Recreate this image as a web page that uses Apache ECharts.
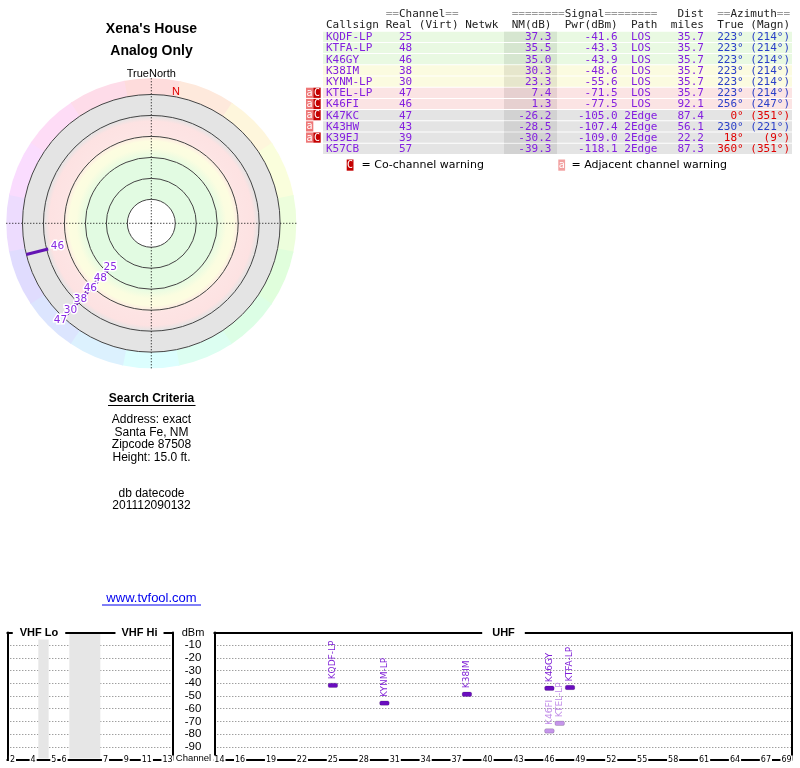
<!DOCTYPE html>
<html><head><meta charset="utf-8">
<script src="https://cdn.jsdelivr.net/npm/echarts@6/dist/echarts.min.js"></script>
<style>html,body{margin:0;padding:0;background:#fff;}#c{width:800px;height:768px;}</style>
</head><body><div id="c"></div>
<script>
// ---------------- DATA ----------------
const callsigns    = ['KQDF-LP','KTFA-LP','K46GY','K38IM','KYNM-LP','KTEL-LP','K46FI','K47KC','K43HW','K39EJ','K57CB'];
const realChannels = [25,48,46,38,30,47,46,47,43,39,57];
const nmDb         = [37.3,35.5,35.0,30.3,23.3,7.4,1.3,-26.2,-28.5,-30.2,-39.3];
const pwrDbm       = [-41.6,-43.3,-43.9,-48.6,-55.6,-71.5,-77.5,-105.0,-107.4,-109.0,-118.1];
const paths        = ['LOS','LOS','LOS','LOS','LOS','LOS','LOS','2Edge','2Edge','2Edge','2Edge'];
const distMiles    = [35.7,35.7,35.7,35.7,35.7,35.7,92.1,87.4,56.1,22.2,87.3];
const azTrue       = [223,223,223,223,223,223,256,0,230,18,360];
const azMagn       = [214,214,214,214,214,214,247,351,221,9,351];
const rowBand      = ['green','green','green','yellow','yellow','pink','pink','grey','grey','grey','grey'];
const adjWarn      = [0,0,0,0,0,1,1,1,1,1,0];
const coWarn       = [0,0,0,0,0,1,1,1,0,1,0];
const azWarnRed    = [0,0,0,0,0,0,0,1,0,1,1];

// polar rings (NM dB) and range
const polarRingsNM = [70,52.5,35,17.5,0,-17.5];
const polarNMmax = 90, polarNMmin = -31;

// spectrum axes
const dbmTicks = [-10,-20,-30,-40,-50,-60,-70,-80,-90];
const uhfTickChannels = [14,16,19,22,25,28,31,34,37,40,43,46,49,52,55,58,61,64,67,69];
const vhfTickChannels = [2,4,5,6,7,9,11,13];
const vhfGapSlots = [[3,4],[6,9]];

// table text
const tableHeader1 = [[9,'==',1],[11,'Channel',0],[18,'==',1],[28,'========',1],[36,'Signal',0],[42,'========',1],[53,'Dist',0],[59,'==',1],[61,'Azimuth',0],[68,'==',1]];
const tableHeader2 = [[0,'Callsign'],[9,'Real'],[14,'(Virt)'],[21,'Netwk'],[28,'NM(dB)'],[36,'Pwr(dBm)'],[46,'Path'],[52,'miles'],[59,'True'],[64,'(Magn)']];
const searchLines = ['Address: exact','Santa Fe, NM','Zipcode 87508','Height: 15.0 ft.'];

// ---------------- LAYOUT / STYLE ----------------
const PURPLE = '#8420e0', BLUE = '#2a3fc8', RED = '#e00000';
const bandColors = {green:['#e9f9e2','#d6e6d0'], yellow:['#fbfbe0','#e6e6cc'], pink:['#fbe4e4','#e6d0d0'], grey:['#e4e4e4','#d2d2d2']};
const MONO = '11px "DejaVu Sans Mono"';
const SANS = '"Liberation Sans"';
const TX0 = 326, CW = 6.63, ROWY0 = 31.7, RH = 11.2;
function colX(c){ return TX0 + c*CW; }
function vhfSlot(ch){ return ch<=4 ? ch-1.5 : (ch<=6 ? ch-0.5 : ch+2.5); }
const vhfTickSlots = vhfTickChannels.map(vhfSlot);

const G = [];
function txt(x,y,text,o){
  o = o || {};
  const al = o.align || 'left', va = o.va || 'middle';
  const st = {text:text, fill:o.fill||'#000', font:o.font||('12px '+SANS), align:al, verticalAlign:va, textAlign:al, textVerticalAlign:va};
  if (o.bg){ st.backgroundColor = o.bg; st.padding = o.pad || [0,0]; }
  G.push({type:'text', x:x, y:y, z:o.z||10, silent:true, style:st});
}
function rect(x,y,w,h,fill,z){ G.push({type:'rect', z:z||5, silent:true, shape:{x:x,y:y,width:w,height:h}, style:{fill:fill}}); }
function hline(x1,x2,y,color,w){ G.push({type:'line', z:10, silent:true, shape:{x1:x1,y1:y,x2:x2,y2:y}, style:{stroke:color,lineWidth:w||1}}); }

// left titles
txt(151.5,29,"Xena's House",{align:'center',font:'bold 14px '+SANS});
txt(151.5,51,'Analog Only',{align:'center',font:'bold 14px '+SANS});
txt(151.3,73.5,'TrueNorth',{align:'center',font:'11px '+SANS});
txt(151.5,398.5,'Search Criteria',{align:'center',font:'bold 12px '+SANS});
hline(108,195.5,405.5,'#000',1);
searchLines.forEach((s,k)=>txt(151.5,420+k*12.5,s,{align:'center'}));
txt(151.5,494,'db datecode',{align:'center'});
txt(151.5,506,'201112090132',{align:'center'});
txt(151.5,598,'www.tvfool.com',{align:'center',fill:'#0000ee',font:'13px '+SANS});
hline(102,201,605,'#0000ee',1);

// table headers
tableHeader1.forEach(h=>txt(colX(h[0]),14.3,h[1],{font:MONO,fill:h[2]?'#9a9a9a':'#222'}));
tableHeader2.forEach(h=>txt(colX(h[0]),25.5,h[1],{font:MONO,fill:'#222'}));

// table rows
callsigns.forEach((cs,i)=>{
  const y0 = ROWY0 + i*RH, yc = y0 + RH/2;
  const bc = bandColors[rowBand[i]];
  rect(323, y0, 469, RH-1, bc[0], 1);
  rect(504, y0, 53, RH-1, bc[1], 2);
  if (adjWarn[i]){ rect(306, y0, 7.3, RH-1, '#ee7777', 2); txt(309.6, yc, 'a', {align:'center', font:'10px "DejaVu Sans Mono"', fill:'#fff'}); }
  if (coWarn[i]){ rect(313.3, y0, 7.4, RH-1, '#c40000', 2); txt(317, yc, 'C', {align:'center', font:'10px "DejaVu Sans Mono"', fill:'#fff'}); }
  txt(colX(0), yc, cs, {font:MONO, fill:PURPLE});
  txt(colX(13), yc, String(realChannels[i]), {font:MONO, fill:PURPLE, align:'right'});
  txt(colX(34), yc, nmDb[i].toFixed(1), {font:MONO, fill:PURPLE, align:'right'});
  txt(colX(44), yc, pwrDbm[i].toFixed(1), {font:MONO, fill:PURPLE, align:'right'});
  txt(colX(47.5), yc, paths[i], {font:MONO, fill:PURPLE, align:'center'});
  txt(colX(57), yc, distMiles[i].toFixed(1), {font:MONO, fill:PURPLE, align:'right'});
  const ac = azWarnRed[i] ? RED : BLUE;
  txt(colX(63), yc, azTrue[i]+'°', {font:MONO, fill:ac, align:'right'});
  txt(colX(70), yc, '('+azMagn[i]+'°)', {font:MONO, fill:ac, align:'right'});
});
// legend
rect(346.7,159.5,6.8,11.2,'#c40000',2); txt(350.1,165.2,'C',{align:'center',font:'10px "DejaVu Sans Mono"',fill:'#fff'});
txt(361.5,165.5,'= Co-channel warning',{font:'11px "DejaVu Sans"'});
rect(558.3,159.5,6.8,11.2,'#f2a0a0',2); txt(561.7,165.2,'a',{align:'center',font:'10px "DejaVu Sans Mono"',fill:'#fff'});
txt(571.5,165.5,'= Adjacent channel warning',{font:'11px "DejaVu Sans"'});

// spectrum panel titles / labels
txt(39,633,'VHF Lo',{align:'center',font:'bold 11px '+SANS,bg:'#fff',pad:[1,7],z:20});
txt(139.5,633,'VHF Hi',{align:'center',font:'bold 11px '+SANS,bg:'#fff',pad:[1,6],z:20});
txt(503.5,633,'UHF',{align:'center',font:'bold 11px '+SANS,bg:'#fff',pad:[1,10],z:20});
txt(193,633,'dBm',{align:'center',font:'11px '+SANS});
txt(193.5,758.5,'Channel',{align:'center',font:'9.5px '+SANS,bg:'#fff',pad:[0,1],z:20});

// ---------------- SERIES RENDERERS ----------------
function rPix(api, cs, nm){ const p = api.coord([nm,0]); return Math.hypot(p[0]-cs.cx, p[1]-cs.cy); }

function renderPolarBg(params, api){
  const cs = params.coordSys, cx = cs.cx, cy = cs.cy;
  const rOuterRing = rPix(api, cs, polarRingsNM[polarRingsNM.length-1]);
  const rRim = rPix(api, cs, polarNMmin);
  const rCenter = rPix(api, cs, polarRingsNM[0]);
  const ch = [];
  const nSeg = 16, segW = 360/nSeg;
  for (let k=0;k<nSeg;k++){
    const a0 = (k*segW - segW/2 - 90)*Math.PI/180, a1 = (k*segW + segW/2 - 90)*Math.PI/180;
    ch.push({type:'sector', shape:{cx:cx,cy:cy,r0:rOuterRing,r:rRim,startAngle:a0,endAngle:a1+0.01,clockwise:true},
      style:{fill:'hsl('+(k*segW)+',95%,93%)'}});
  }
  const f = r => r/rOuterRing;
  ch.push({type:'circle', shape:{cx:cx,cy:cy,r:rOuterRing}, style:{fill:{type:'radial',x:0.5,y:0.5,r:0.5,colorStops:[
    {offset:0,color:'#e2fbe2'},{offset:f(64),color:'#e2fbe2'},{offset:f(75),color:'#fbfde0'},{offset:f(82),color:'#fdfde0'},
    {offset:f(89),color:'#fde4e4'},{offset:f(102),color:'#fde2e2'},{offset:f(107.5),color:'#e4e4e4'},{offset:1,color:'#e4e4e4'}]}}});
  ch.push({type:'circle', shape:{cx:cx,cy:cy,r:rCenter}, style:{fill:'#fff'}});
  polarRingsNM.forEach(nm=>{
    ch.push({type:'circle', shape:{cx:cx,cy:cy,r:rPix(api,cs,nm)}, style:{fill:null,stroke:'#444',lineWidth:1}});
  });
  // magnetic north marker
  const decl = azTrue[0]-azMagn[0];
  const pN = api.coord([-21, decl]);
  ch.push({type:'text', x:pN[0], y:pN[1], style:{text:'N', fill:RED, font:'11px '+SANS, align:'left', verticalAlign:'middle'}});
  return {type:'group', children:ch};
}

const polarIdx = callsigns.map((c,i)=>i).filter(i=>nmDb[i] >= polarRingsNM[polarRingsNM.length-1]);
function renderPolarStation(params, api){
  const cs = params.coordSys, cx = cs.cx, cy = cs.cy;
  const nm = api.value(0), az = api.value(1), chn = api.value(2);
  const pIn = api.coord([nm, az]);
  const pOut = api.coord([polarRingsNM[polarRingsNM.length-1], az]);
  const ux = (pOut[0]-cx), uy = (pOut[1]-cy); const L = Math.hypot(ux,uy); const vx = ux/L, vy = uy/L;
  // label stagger among stations sharing the azimuth
  const me = polarIdx[params.dataIndex];
  const grp = polarIdx.filter(i=>azTrue[i]===az).map(i=>({i:i, r:rPix(api,cs,nmDb[i])})).sort((a,b)=>a.r-b.r);
  const d = 3 + 9*Math.max(0, Math.abs(vx)-Math.abs(vy));
  let prev = -1e9, myR = 0;
  grp.forEach(g=>{ const lr = Math.max(g.r - d, prev + 14.6); prev = lr; if (g.i===me) myR = lr; });
  return {type:'group', children:[
    {type:'line', z2:1, shape:{x1:pIn[0],y1:pIn[1],x2:pOut[0],y2:pOut[1]}, style:{stroke:'#6414b4', lineWidth:3}},
    {type:'text', z2:10, x:cx+vx*myR, y:cy+vy*myR, style:{text:String(chn), fill:'#8a2be2', font:'10.5px "DejaVu Sans"', align:'center', verticalAlign:'middle', stroke:'#fff', lineWidth:3, strokeFirst:true}}
  ]};
}

function renderGap(params, api){
  const p0 = api.coord([api.value(0), 0]), p1 = api.coord([api.value(1), -100]);
  return {type:'rect', shape:{x:p0[0], y:p0[1]+1, width:p1[0]-p0[0], height:p1[1]-p0[1]-2}, style:{fill:'#e6e6e6'}};
}

function renderSpectrum(params, api){
  const ch = api.value(0), pw = api.value(1), i = api.value(2);
  if (pw < -100) return null;
  const p = api.coord([ch, pw]);
  const w = api.size([1,0])[0] - 0.8;
  const weak = (rowBand[i]==='pink' || rowBand[i]==='grey');
  const barC = weak ? '#c595ea' : '#6a0dbf', txtC = weak ? '#c08ae8' : '#7f1fd6';
  return {type:'group', children:[
    {type:'rect', shape:{x:p[0]-w/2, y:p[1]-2.2, width:w, height:4.4, r:1.5}, style:{fill:barC, stroke:'rgba(0,0,0,0.25)', lineWidth:0.6}},
    {type:'text', x:p[0], y:p[1]-6, rotation:Math.PI/2, style:{text:callsigns[i], fill:txtC, font:'9px "DejaVu Sans"', align:'left', verticalAlign:'middle'}}
  ]};
}

// ---------------- OPTION ----------------
const axLineBlack = {show:true, onZero:false, lineStyle:{color:'#000', width:2}};
const noTick = {show:false};
const option = {
  animation:false,
  backgroundColor:'#fff',
  polar:{center:[151.3,223.3], radius:145},
  angleAxis:{type:'value', min:0, max:360, interval:90, startAngle:90, clockwise:true, z:3,
    axisLine:{show:false}, axisTick:noTick, axisLabel:{show:false},
    splitLine:{show:true, lineStyle:{color:'#000', width:1, type:[1,2]}}},
  radiusAxis:{type:'value', min:polarNMmin, max:polarNMmax, inverse:true,
    axisLine:{show:false}, axisTick:noTick, axisLabel:{show:false}, splitLine:{show:false}},
  grid:[
    {left:7.3, top:632.5, width:165.4, height:127},
    {left:214.3, top:632.5, width:577.4, height:127}
  ],
  xAxis:[
    {gridIndex:0, type:'value', min:0, max:16, position:'bottom', z:3, axisLine:axLineBlack, axisTick:noTick, splitLine:{show:false},
      axisLabel:{customValues:vhfTickSlots, formatter:v=>{const k=vhfTickSlots.findIndex(s=>Math.abs(s-v)<1e-6); return k>=0?String(vhfTickChannels[k]):'';},
        margin:0, verticalAlign:'middle', backgroundColor:'#fff', padding:[0,1], fontSize:8, fontFamily:'DejaVu Sans', color:'#000', hideOverlap:false, showMinLabel:true, showMaxLabel:true}},
    {gridIndex:0, type:'value', min:0, max:16, position:'top', z:3, axisLine:axLineBlack, axisTick:noTick, axisLabel:{show:false}, splitLine:{show:false}},
    {gridIndex:1, type:'value', min:13.5, max:69.5, position:'bottom', z:3, axisLine:axLineBlack, axisTick:noTick, splitLine:{show:false},
      axisLabel:{customValues:uhfTickChannels, formatter:v=>String(v),
        margin:0, verticalAlign:'middle', backgroundColor:'#fff', padding:[0,1], fontSize:8, fontFamily:'DejaVu Sans', color:'#000', hideOverlap:false}},
    {gridIndex:1, type:'value', min:13.5, max:69.5, position:'top', z:3, axisLine:axLineBlack, axisTick:noTick, axisLabel:{show:false}, splitLine:{show:false}}
  ],
  yAxis:[
    {gridIndex:0, type:'value', min:-100, max:0, interval:10, position:'left', axisLine:axLineBlack, axisTick:noTick, axisLabel:{show:false},
      splitLine:{show:true, lineStyle:{color:'#777', width:1, type:[1,2]}}},
    {gridIndex:0, type:'value', min:-100, max:0, interval:10, position:'right', axisLine:axLineBlack, axisTick:noTick, axisLabel:{show:false}, splitLine:{show:false}},
    {gridIndex:1, type:'value', min:-100, max:0, interval:10, position:'left', axisLine:axLineBlack, axisTick:noTick,
      axisLabel:{customValues:dbmTicks, align:'center', margin:21.3, fontSize:11.5, fontFamily:'Liberation Sans', color:'#000'},
      splitLine:{show:true, lineStyle:{color:'#777', width:1, type:[1,2]}}},
    {gridIndex:1, type:'value', min:-100, max:0, interval:10, position:'right', axisLine:axLineBlack, axisTick:noTick, axisLabel:{show:false}, splitLine:{show:false}}
  ],
  graphic:{elements:G},
  series:[
    {type:'custom', coordinateSystem:'polar', z:1, silent:true, renderItem:renderPolarBg, data:[[0,0]]},
    {type:'custom', coordinateSystem:'polar', z:5, silent:true, renderItem:renderPolarStation,
      data:polarIdx.map(i=>[nmDb[i], azTrue[i], realChannels[i]])},
    {type:'custom', xAxisIndex:0, yAxisIndex:0, z:2, silent:true, renderItem:renderGap, data:vhfGapSlots},
    {type:'custom', xAxisIndex:2, yAxisIndex:2, z:5, silent:true, clip:false, renderItem:renderSpectrum,
      data:callsigns.map((c,i)=>[realChannels[i], pwrDbm[i], i])}
  ]
};
const chart = echarts.init(document.getElementById('c'), null, {renderer:'canvas', width:800, height:768});
chart.setOption(option);
</script>
</body></html>
